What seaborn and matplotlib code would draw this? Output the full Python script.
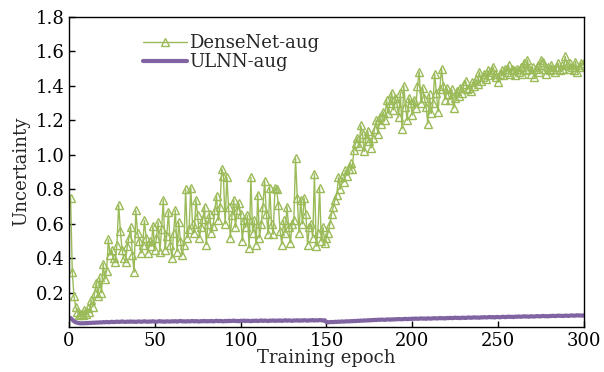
import numpy as np
import pandas as pd
import seaborn as sns
import matplotlib.pyplot as plt

# Epoch axis
epochs = list(range(1, 301))

# DenseNet-aug uncertainty per epoch
densenet_aug = [
    0.75, 0.32, 0.18, 0.12, 0.09, 0.07, 0.08, 0.07, 0.10, 0.08,
    0.11, 0.09, 0.16, 0.12, 0.20, 0.26, 0.18, 0.29, 0.20, 0.37,
    0.28, 0.33, 0.51, 0.42, 0.45, 0.40, 0.38, 0.48, 0.71, 0.56,
    0.45, 0.40, 0.38, 0.47, 0.52, 0.58, 0.42, 0.32, 0.68, 0.55,
    0.50, 0.43, 0.48, 0.62, 0.52, 0.43, 0.50, 0.47, 0.59, 0.45,
    0.52, 0.61, 0.44, 0.57, 0.74, 0.45, 0.53, 0.67, 0.48, 0.40,
    0.55, 0.68, 0.44, 0.61, 0.50, 0.42, 0.48, 0.80, 0.52, 0.57,
    0.81, 0.60, 0.55, 0.74, 0.65, 0.52, 0.58, 0.63, 0.70, 0.48,
    0.60, 0.66, 0.55, 0.59, 0.68, 0.76, 0.62, 0.70, 0.92, 0.88,
    0.60, 0.87, 0.70, 0.52, 0.65, 0.74, 0.58, 0.68, 0.72, 0.66,
    0.50, 0.62, 0.58, 0.65, 0.46, 0.87, 0.55, 0.62, 0.48, 0.77,
    0.52, 0.60, 0.70, 0.85, 0.66, 0.54, 0.81, 0.60, 0.54, 0.81,
    0.80, 0.71, 0.56, 0.48, 0.62, 0.55, 0.70, 0.58, 0.49, 0.60,
    0.62, 0.98, 0.75, 0.55, 0.74, 0.60, 0.75, 0.66, 0.48, 0.58,
    0.60, 0.52, 0.89, 0.47, 0.55, 0.81, 0.50, 0.58, 0.49, 0.52,
    0.55, 0.60, 0.66, 0.70, 0.74, 0.77, 0.87, 0.80, 0.87, 0.84,
    0.91, 0.88, 0.92, 0.95, 0.92, 1.03, 1.07, 1.10, 1.05, 1.17,
    1.12, 1.02, 1.10, 1.14, 1.08, 1.04, 1.10, 1.15, 1.20, 1.12,
    1.22, 1.18, 1.25, 1.20, 1.32, 1.24, 1.30, 1.36, 1.26, 1.33,
    1.30, 1.22, 1.36, 1.15, 1.40, 1.28, 1.20, 1.33, 1.30, 1.23,
    1.32, 1.27, 1.40, 1.48, 1.30, 1.39, 1.33, 1.28, 1.18, 1.35,
    1.24, 1.30, 1.47, 1.36, 1.25, 1.38, 1.50, 1.40, 1.32, 1.39,
    1.35, 1.32, 1.38, 1.27, 1.33, 1.37, 1.34, 1.39, 1.36, 1.41,
    1.43, 1.38, 1.39, 1.37, 1.42, 1.40, 1.44, 1.41, 1.48, 1.43,
    1.45, 1.47, 1.44, 1.49, 1.46, 1.48, 1.51, 1.47, 1.45, 1.42,
    1.47, 1.49, 1.46, 1.50, 1.48, 1.52, 1.47, 1.50, 1.49, 1.46,
    1.50, 1.48, 1.51, 1.47, 1.53, 1.49, 1.55, 1.50, 1.47, 1.51,
    1.45, 1.50, 1.52, 1.48, 1.55, 1.54, 1.50, 1.47, 1.51, 1.49,
    1.52, 1.50, 1.48, 1.51, 1.53, 1.49, 1.52, 1.50, 1.57, 1.52,
    1.50, 1.53, 1.51, 1.49, 1.54, 1.48, 1.51, 1.53, 1.52, 1.53,
]

# ULNN-aug uncertainty per epoch
ulnn_aug = [
    0.055, 0.045, 0.036, 0.030, 0.027, 0.025, 0.024, 0.025, 0.024, 0.026,
    0.025, 0.027, 0.026, 0.028, 0.027, 0.029, 0.028, 0.030, 0.029, 0.031,
    0.030, 0.032, 0.030, 0.031, 0.033, 0.031, 0.032, 0.034, 0.032, 0.033,
    0.035, 0.033, 0.032, 0.034, 0.033, 0.035, 0.033, 0.034, 0.032, 0.034,
    0.035, 0.033, 0.034, 0.036, 0.034, 0.033, 0.035, 0.034, 0.036, 0.034,
    0.033, 0.035, 0.037, 0.034, 0.035, 0.033, 0.036, 0.035, 0.034, 0.036,
    0.035, 0.037, 0.034, 0.036, 0.038, 0.035, 0.036, 0.034, 0.037, 0.035,
    0.036, 0.038, 0.035, 0.037, 0.036, 0.034, 0.037, 0.036, 0.038, 0.035,
    0.037, 0.036, 0.038, 0.035, 0.037, 0.039, 0.036, 0.038, 0.037, 0.035,
    0.038, 0.036, 0.039, 0.037, 0.038, 0.040, 0.037, 0.038, 0.036, 0.039,
    0.038, 0.040, 0.037, 0.039, 0.038, 0.036, 0.039, 0.038, 0.040, 0.037,
    0.039, 0.041, 0.038, 0.040, 0.039, 0.037, 0.040, 0.039, 0.041, 0.038,
    0.040, 0.039, 0.041, 0.038, 0.040, 0.042, 0.039, 0.041, 0.040, 0.038,
    0.041, 0.040, 0.042, 0.039, 0.041, 0.040, 0.042, 0.041, 0.039, 0.042,
    0.041, 0.043, 0.040, 0.042, 0.041, 0.043, 0.042, 0.040, 0.042, 0.031,
    0.030, 0.031, 0.032, 0.031, 0.033, 0.032, 0.034, 0.033, 0.035, 0.034,
    0.035, 0.036, 0.035, 0.037, 0.036, 0.038, 0.037, 0.039, 0.038, 0.040,
    0.039, 0.041, 0.040, 0.042, 0.041, 0.043, 0.042, 0.044, 0.043, 0.045,
    0.044, 0.046, 0.045, 0.044, 0.046, 0.047, 0.045, 0.047, 0.046, 0.048,
    0.047, 0.049, 0.048, 0.047, 0.049, 0.050, 0.048, 0.050, 0.049, 0.051,
    0.050, 0.052, 0.050, 0.051, 0.053, 0.051, 0.052, 0.050, 0.053, 0.052,
    0.051, 0.053, 0.054, 0.052, 0.053, 0.055, 0.053, 0.054, 0.052, 0.055,
    0.054, 0.056, 0.054, 0.055, 0.057, 0.055, 0.056, 0.054, 0.057, 0.056,
    0.055, 0.057, 0.058, 0.056, 0.057, 0.059, 0.057, 0.058, 0.056, 0.059,
    0.058, 0.060, 0.058, 0.059, 0.061, 0.059, 0.060, 0.058, 0.061, 0.060,
    0.059, 0.061, 0.062, 0.060, 0.061, 0.063, 0.061, 0.062, 0.060, 0.063,
    0.062, 0.064, 0.062, 0.063, 0.065, 0.063, 0.064, 0.062, 0.065, 0.064,
    0.063, 0.065, 0.066, 0.064, 0.065, 0.067, 0.065, 0.066, 0.064, 0.067,
    0.066, 0.068, 0.066, 0.067, 0.069, 0.067, 0.068, 0.066, 0.069, 0.068,
    0.067, 0.069, 0.070, 0.068, 0.069, 0.071, 0.069, 0.070, 0.068, 0.071,
]

x_ticks = [0, 50, 100, 150, 200, 250, 300]
y_ticks = [0.2, 0.4, 0.6, 0.8, 1.0, 1.2, 1.4, 1.6, 1.8]

green = '#9bbb59'
purple = '#8064a2'

sns.set_style('ticks')
plt.rcParams['font.family'] = ['DejaVu Serif']

fig = plt.figure(figsize=(6.04, 3.72), dpi=100)
ax = fig.add_axes([0.114, 0.122, 0.853, 0.833])

sns.lineplot(x=epochs, y=densenet_aug, ax=ax, color=green, linewidth=1.0,
             marker='^', markersize=6, markerfacecolor='none',
             markeredgecolor=green, markeredgewidth=1.0, label='DenseNet-aug')
sns.lineplot(x=epochs, y=ulnn_aug, ax=ax, color=purple, linewidth=3.0,
             label='ULNN-aug')

ax.set_xlim(0, 300)
ax.set_ylim(0.005, 1.8)
ax.set_xticks(x_ticks)
ax.set_yticks(y_ticks)
ax.set_yticklabels([f'{v:.1f}' for v in y_ticks])
ax.tick_params(direction='in', length=4, width=1, labelsize=13, colors='black')
ax.tick_params(axis='x', pad=4)
ax.tick_params(axis='y', pad=3)
for s in ax.spines.values():
    s.set_linewidth(1.0)
    s.set_color('black')

ax.set_xlabel('Training epoch', fontsize=13, labelpad=-1)
ax.set_ylabel('Uncertainty', fontsize=13, labelpad=4)

ax.legend(loc='upper left', bbox_to_anchor=(0.12, 0.985), frameon=False,
          fontsize=13, handlelength=2.4, handletextpad=0.15, labelspacing=0.05,
          borderpad=0.2)

plt.savefig('out.png', dpi=100)
